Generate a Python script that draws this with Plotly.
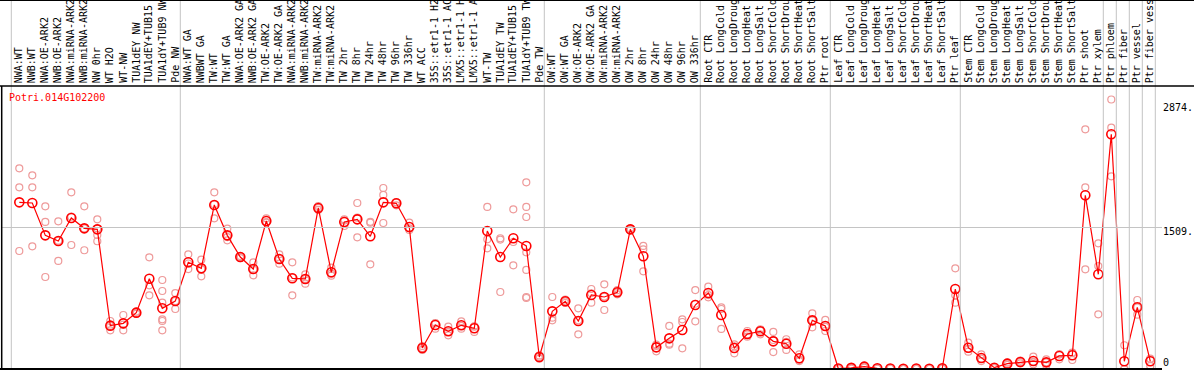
import plotly.graph_objects as go

# ---------------- data ----------------
labels = [
    "NWA:WT", "NWB:WT", "NWA:OE-ARK2", "NWB:OE-ARK2", "NWA:miRNA-ARK2", "NWB:miRNA-ARK2",
    "NW 0hr", "WT H2O", "WT-NW", "TUA1dEY NW", "TUA1dEY+TUB15", "TUA1dY+TUB9 NW", "Pde NW",
    "NWA:WT GA", "NWBWT GA", "TW:WT", "TW:WT GA", "NWA:OE-ARK2 GA", "NWB:OE-ARK2 GA",
    "TW:OE-ARK2", "TW:OE-ARK2 GA", "NWA:miRNA-ARK2", "NWB:miRNA-ARK2", "TW:miRNA-ARK2",
    "TW:miRNA-ARK2", "TW 2hr", "TW 8hr", "TW 24hr", "TW 48hr", "TW 96hr", "TW 336hr",
    "WT ACC", "35S::etr1-1 H2", "35S::etr1-1 AC", "LMX5::etr1-1 H", "LMX5::etr1-1 A",
    "WT-TW", "TUA1dEY TW", "TUA1dEY+TUB15", "TUA1dY+TUB9 TW", "Pde TW",
    "OW:WT", "OW:WT GA", "OW:OE-ARK2", "OW:OE-ARK2 GA", "OW:miRNA-ARK2", "OW:miRNA-ARK2",
    "OW 2hr", "OW 8hr", "OW 24hr", "OW 48hr", "OW 96hr", "OW 336hr",
    "Root CTR", "Root LongCold", "Root LongDroug", "Root LongHeat", "Root LongSalt",
    "Root ShortCold", "Root ShortDrou", "Root ShortHeat", "Root ShortSalt", "Ptr root",
    "Leaf CTR", "Leaf LongCold", "Leaf LongDroug", "Leaf LongHeat", "Leaf LongSalt",
    "Leaf ShortCold", "Leaf ShortDrou", "Leaf ShortHeat", "Leaf ShortSalt", "Ptr leaf",
    "Stem CTR", "Stem LongCold", "Stem LongDroug", "Stem LongHeat", "Stem LongSalt",
    "Stem ShortCold", "Stem ShortDrou", "Stem ShortHeat", "Stem ShortSalt", "Ptr shoot",
    "Ptr xylem", "Ptr phloem", "Ptr fiber", "Ptr vessel", "Ptr fiber vess",
]

means = [
    1777, 1770, 1425, 1365, 1610, 1500, 1489, 462, 487, 601, 963, 647, 725,
    1138, 1073, 1749, 1425, 1194, 1066, 1578, 1173, 967, 960, 1717, 1031, 1568,
    1596, 1415, 1777, 1767, 1514, 224, 469, 402, 466, 434, 1472, 1194, 1394, 1312, 128,
    615, 722, 512, 789, 768, 818, 1489, 1202, 231, 327, 416, 682,
    810, 576, 224, 373, 402, 295, 270, 114, 519, 459,
    5, 12, 25, 8, 6, 2, 5, 3, 8, 853,
    227, 117, 14, 57, 75, 85, 71, 139, 146, 1852,
    1010, 2503, 82, 658, 82,
]

replicates = [
    [2140, 1937, 1258], [2065, 1937, 1308], [1735, 1568, 981], [1575, 1368, 1152],
    [1884, 1624, 1322], [1735, 1499, 1266], [1596, 1500, 1429, 1362], [512, 462, 412],
    [576, 473, 412], [612, 601, 590], [1191, 892, 786], [949, 832, 707, 530, 512, 412],
    [810, 725, 640],
    [1223, 1125, 1066], [1166, 1065, 988], [1884, 1756, 1607], [1496, 1407, 1372],
    [1205, 1194, 1183], [1138, 1062, 999], [1607, 1567, 1560], [1223, 1173, 1123],
    [1138, 977, 786], [1010, 960, 910], [1738, 1717, 1696], [1081, 1017, 995],
    [1596, 1583, 1525], [1770, 1614, 1404], [1569, 1560, 1116], [1930, 1856, 1557],
    [1780, 1776, 1745], [1560, 1500, 1482], [245, 224, 203], [490, 486, 430],
    [451, 396, 359], [508, 460, 430], [456, 451, 395], [1728, 1383, 1287],
    [1394, 1380, 821], [1703, 1354, 1106], [1991, 1728, 1621, 1244, 1056, 768, 757],
    [145, 130, 110],
    [768, 547, 519], [740, 722, 704], [647, 519, 370], [853, 808, 707], [903, 772, 629],
    [840, 818, 796], [1500, 1489, 1478], [1312, 1276, 1041], [259, 245, 189],
    [459, 270, 259], [530, 501, 220], [842, 696, 508],
    [878, 788, 764], [658, 640, 427], [263, 242, 167], [405, 369, 345], [424, 410, 370],
    [395, 309, 181], [317, 290, 203], [156, 100, 85], [594, 519, 444], [523, 449, 405],
    [8, 5, 2], [20, 12, 4], [35, 25, 15], [12, 8, 4], [9, 6, 3], [3, 2, 1], [8, 5, 2],
    [5, 3, 1], [12, 8, 4], [1073, 786, 707],
    [281, 215, 185], [156, 110, 85], [20, 14, 8], [70, 57, 44], [90, 75, 60],
    [132, 75, 50], [103, 71, 39], [156, 155, 103], [174, 170, 96], [2556, 1937, 1063],
    [1340, 1098, 583], [2874, 2573, 2055], [253, 0, 0], [736, 658, 579], [110, 104, 32],
]

group_starts = [0, 13, 41, 53, 63, 73, 84, 85, 86, 87, 88]
gene_name = "Potri.014G102200"
ytick_values = [2874, 1509, 0]
ytick_labels = ["2874.", "1509.", "0"]

# ---------------- layout geometry ----------------
W, H = 1194, 370
ML, MR, MT, MB = 2, 32, 86, 1
PW, PH = W - ML - MR, H - MT - MB
XLO, XHI = -1.331, 87.9
YMAX = max(max(r) for r in replicates) * 1.05


def px_to_paper_x(px):
    return (px - ML) / PW


def py_to_paper_y(py):
    return (H - MB - py) / PH


def data_to_paper_x(v):
    return (v - XLO) / (XHI - XLO)


FONT = "DejaVu Sans Mono"
GRID = "#c4c4c4"

rep_x, rep_y = [], []
for i, reps in enumerate(replicates):
    for v in reps:
        rep_x.append(i)
        rep_y.append(v)

fig = go.Figure()
fig.add_trace(go.Scatter(
    x=rep_x, y=rep_y, mode="markers",
    marker=dict(symbol="circle-open", size=7, color="#ee9a9a", line=dict(width=1.2)),
    hoverinfo="skip", showlegend=False,
))
fig.add_trace(go.Scatter(
    x=list(range(len(means))), y=means, mode="lines+markers",
    line=dict(color="#ff0000", width=1.2),
    marker=dict(symbol="circle-open", size=9, color="#ff0000", line=dict(width=1.6)),
    showlegend=False,
))

shapes = []
top_paper = py_to_paper_y(0)
for b in group_starts:
    xp = data_to_paper_x(b - 0.615)
    shapes.append(dict(type="line", xref="paper", yref="paper", x0=xp, x1=xp,
                       y0=0, y1=top_paper, line=dict(color=GRID, width=1)))
# mid horizontal grid
shapes.append(dict(type="line", xref="paper", yref="paper", x0=0, x1=1, y0=0.5, y1=0.5,
                   line=dict(color=GRID, width=1)))
# black frame lines
shapes.append(dict(type="line", xref="paper", yref="paper", x0=px_to_paper_x(0),
                   x1=px_to_paper_x(W), y0=top_paper - 0.5 / PH, y1=top_paper - 0.5 / PH,
                   line=dict(color="black", width=1)))
shapes.append(dict(type="line", xref="paper", yref="paper", x0=px_to_paper_x(0),
                   x1=px_to_paper_x(W), y0=1, y1=1, line=dict(color="black", width=1.5)))
shapes.append(dict(type="line", xref="paper", yref="paper", x0=px_to_paper_x(0), x1=1,
                   y0=0, y1=0, line=dict(color="black", width=2)))
shapes.append(dict(type="line", xref="paper", yref="paper", x0=px_to_paper_x(1.7),
                   x1=px_to_paper_x(1.7), y0=0, y1=1, line=dict(color="black", width=1.5)))

annotations = []
for i, lab in enumerate(labels):
    annotations.append(dict(
        x=i, xref="x", y=py_to_paper_y(84), yref="paper", text=lab, showarrow=False,
        textangle=-90, xanchor="center", yanchor="bottom", borderpad=0,
        font=dict(family=FONT, size=10, color="black"),
    ))
annotations.append(dict(
    x=px_to_paper_x(8), xref="paper", y=py_to_paper_y(97), yref="paper", text=gene_name,
    showarrow=False, xanchor="left", yanchor="middle", borderpad=0,
    font=dict(family=FONT, size=10, color="#ff0000"),
))
for v, t, sh in zip(ytick_values, ytick_labels, [-8, -4, 7]):
    annotations.append(dict(
        x=px_to_paper_x(1162), xref="paper", y=v, yref="y", yshift=sh, text=t,
        showarrow=False, xanchor="left", yanchor="middle", borderpad=0,
        font=dict(family=FONT, size=10, color="black"),
    ))

fig.update_layout(
    width=W, height=H, autosize=False,
    margin=dict(l=ML, r=MR, t=MT, b=MB, pad=0),
    paper_bgcolor="white", plot_bgcolor="white",
    xaxis=dict(range=[XLO, XHI], showgrid=False, zeroline=False, showticklabels=False,
               ticks="", showline=False, fixedrange=True),
    yaxis=dict(range=[0, YMAX], showgrid=False, zeroline=False, showticklabels=False,
               ticks="", showline=False, fixedrange=True),
    shapes=shapes, annotations=annotations,
)

fig.write_html(
    "out.html",
    config={"displayModeBar": False},
    post_script="document.body.style.margin='0';document.body.style.overflow='hidden';",
)
